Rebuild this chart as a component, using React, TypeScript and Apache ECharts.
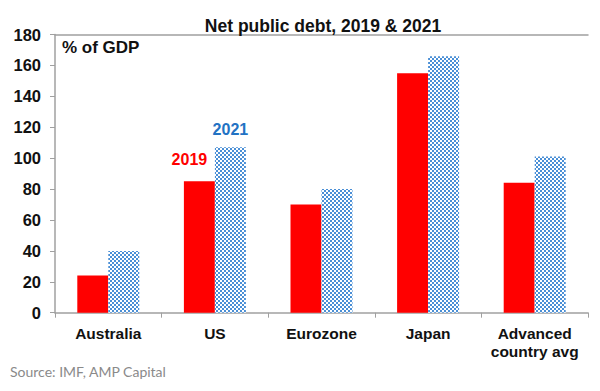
import React, { useEffect, useRef } from "react";
import * as echarts from "echarts";

const categories = ["Australia", "US", "Eurozone", "Japan", "Advanced\ncountry avg"];
const debt2019 = [24, 85, 70, 155, 84];
const debt2021 = [40, 107, 80, 166, 101];
const yTicks = { min: 0, max: 180, interval: 20 };
const titleText = "Net public debt, 2019 & 2021";
const unitText = "% of GDP";
const sourceText = "Source: IMF, AMP Capital";
const labelIndex = 1;

export default function App() {
  const ref = useRef<HTMLDivElement>(null);
  useEffect(() => {
    const chart = echarts.init(ref.current!, null, { renderer: "svg" });
    const font = "Liberation Sans, Arial, sans-serif";
    chart.setOption({
      animation: false,
      textStyle: { fontFamily: font },
      title: {
        text: titleText,
        left: 318,
        textAlign: "center",
        top: 12,
        textStyle: { fontSize: 17.5, fontWeight: "bold", color: "#111", fontFamily: font },
      },
      grid: { left: 55, right: 12, top: 34.5, bottom: 78.3, outerBoundsMode: "none" },
      xAxis: [
        {
          type: "category",
          data: categories,
          axisLine: { lineStyle: { color: "#a0a0a0", width: 1.5 } },
          axisTick: { show: true, length: 5, lineStyle: { color: "#a0a0a0" } },
          axisLabel: {
            interval: 0,
            fontSize: 15.5,
            fontWeight: "bold",
            color: "#111",
            margin: 12,
            lineHeight: 18,
            fontFamily: font,
          },
        },
        {
          type: "category",
          data: categories,
          position: "top",
          axisLine: { show: true, lineStyle: { color: "#a0a0a0", width: 1.5 } },
          axisTick: { show: false },
          axisLabel: { show: false },
        },
      ],
      yAxis: {
        type: "value",
        min: yTicks.min,
        max: yTicks.max,
        interval: yTicks.interval,
        axisLine: { show: true, lineStyle: { color: "#a0a0a0", width: 1.5 } },
        axisTick: { show: true, length: 5, lineStyle: { color: "#a0a0a0" } },
        splitLine: { show: false },
        axisLabel: { fontSize: 16.5, fontWeight: "bold", color: "#111", margin: 14, fontFamily: font },
      },
      graphic: [
        {
          type: "text",
          left: 62,
          top: 39,
          style: { text: unitText, fontSize: 17, fontWeight: "bold", fill: "#111", fontFamily: font },
        },
        {
          type: "text",
          left: 10,
          top: 364,
          style: { text: sourceText, fontSize: 14, fill: "#8a8a8a", fontFamily: "Lato, sans-serif" },
        },
      ],
      series: [
        {
          name: "2019",
          type: "bar",
          barWidth: 31,
          barGap: "0%",
          itemStyle: { color: "#ff0000" },
          data: debt2019.map((v, i) =>
            i === labelIndex
              ? {
                  value: v,
                  label: {
                    show: true,
                    position: "top",
                    formatter: "2019",
                    distance: 14,
                    offset: [-10, 0],
                    fontSize: 16,
                    fontWeight: "bold",
                    color: "#ff0000",
                    fontFamily: font,
                  },
                }
              : v
          ),
        },
        {
          name: "2021",
          type: "bar",
          barWidth: 31,
          itemStyle: {
            color: "#ffffff",
            decal: {
              symbol: "rect",
              symbolSize: 1,
              color: "#4a8fd6",
              dashArrayX: [
                [2, 2],
                [0, 2, 2, 0],
              ],
              dashArrayY: [2, 0],
              rotation: 0,
            },
          },
          data: debt2021.map((v, i) =>
            i === labelIndex
              ? {
                  value: v,
                  label: {
                    show: true,
                    position: "top",
                    formatter: "2021",
                    distance: 10,
                    fontSize: 16,
                    fontWeight: "bold",
                    color: "#2272c3",
                    fontFamily: font,
                  },
                }
              : v
          ),
        },
      ],
    });
    return () => chart.dispose();
  }, []);
  return <div ref={ref} style={{ width: 600, height: 391, position: "absolute", left: 0, top: 0 }} />;
}
